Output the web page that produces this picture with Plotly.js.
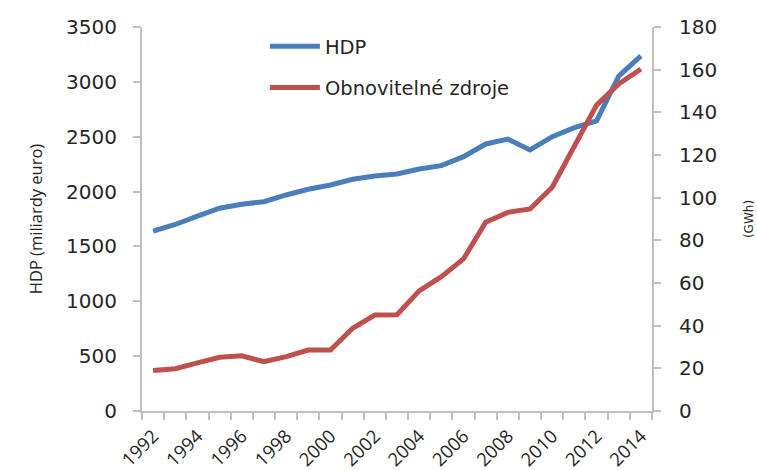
<!DOCTYPE html>
<html>
<head>
<meta charset="utf-8">
<script src="https://cdn.plot.ly/plotly-3.0.1.min.js"></script>
<style>html,body{margin:0;padding:0;background:#fff;}#chart{width:757px;height:470px;}</style>
</head>
<body>
<div id="chart"></div>
<script>
var years = [1992,1993,1994,1995,1996,1997,1998,1999,2000,2001,2002,2003,2004,2005,2006,2007,2008,2009,2010,2011,2012,2013,2014];
var hdp = [1640,1700,1777,1848,1884,1908,1969,2021,2060,2112,2142,2160,2206,2236,2318,2434,2478,2379,2500,2582,2645,3053,3236];
var oze = [19,19.8,22.6,25.2,25.9,23.1,25.5,28.6,28.6,38.8,45,45.1,56.3,63,71.3,88.5,93.1,94.7,104.9,123.9,143.4,153.3,160.3];
var tickYears = [1992,1994,1996,1998,2000,2002,2004,2006,2008,2010,2012,2014];
var tickText = ["1992","1994","1996","1998","2000","2002","2004","2006","2008","2010","2012","2014"];
var seriesNames = ["HDP", "Obnovitelné zdroje"];
var leftTicks = [0,500,1000,1500,2000,2500,3000,3500];
var rightTicks = [0,20,40,60,80,100,120,140,160,180];

var axisGray = '#bfbfbf';
var tickFont = {family: 'DejaVu Sans', size: 20, color: '#262626'};

var traces = [
  {x: years, y: hdp, name: seriesNames[0], type: 'scatter', mode: 'lines',
   line: {color: '#4a7ebb', width: 5}, legendgroup: 'a', yaxis: 'y'},
  {x: years, y: oze, name: seriesNames[1], type: 'scatter', mode: 'lines',
   line: {color: '#c0504d', width: 5}, legendgroup: 'b', yaxis: 'y2'}
];

var layout = {
  width: 757, height: 470,
  margin: {l: 142, r: 105, t: 27, b: 59},
  paper_bgcolor: '#fff', plot_bgcolor: '#fff',
  showlegend: true,
  legend: {x: 0.241, y: 1.0, xanchor: 'left', yanchor: 'top',
           font: {family: 'DejaVu Sans', size: 19.5, color: '#262626'},
           traceorder: 'grouped', tracegroupgap: 13, itemwidth: 50, bgcolor: 'rgba(0,0,0,0)'},
  xaxis: {
    type: 'linear', range: [1991.5, 2014.5], fixedrange: true,
    tickmode: 'array', tickvals: tickYears, ticktext: tickText, tickangle: -45,
    ticks: '', showgrid: false, zeroline: false,
    showline: true, linecolor: axisGray, linewidth: 2,
    tickfont: {family: 'Open Sans', size: 18.5, color: '#262626'},
    ticklabelstandoff: 5,
    minor: {tick0: 1991.5, dtick: 1, ticks: 'outside', ticklen: 7, tickwidth: 2, tickcolor: axisGray, showgrid: false}
  },
  yaxis: {
    range: [0, 3500], tickmode: 'array', tickvals: leftTicks, fixedrange: true,
    ticks: 'outside', ticklen: 7, tickwidth: 2, tickcolor: axisGray,
    showline: true, linecolor: axisGray, linewidth: 2,
    showgrid: false, zeroline: false, tickfont: tickFont, ticklabelstandoff: 12,
    title: {text: 'HDP (miliardy euro)', font: {family: 'Open Sans', size: 16.5, color: '#262626'}, standoff: 19}
  },
  yaxis2: {
    range: [0, 180], tickmode: 'array', tickvals: rightTicks, fixedrange: true,
    overlaying: 'y', side: 'right',
    ticks: 'outside', ticklen: 7, tickwidth: 2, tickcolor: axisGray,
    showline: true, linecolor: axisGray, linewidth: 2,
    showgrid: false, zeroline: false, tickfont: tickFont, ticklabelstandoff: 14,
    title: {text: '(GWh)', font: {family: 'DejaVu Sans', size: 12, color: '#262626'}, standoff: 28}
  }
};

Plotly.newPlot('chart', traces, layout, {displayModeBar: false, staticPlot: true});
</script>
</body>
</html>
